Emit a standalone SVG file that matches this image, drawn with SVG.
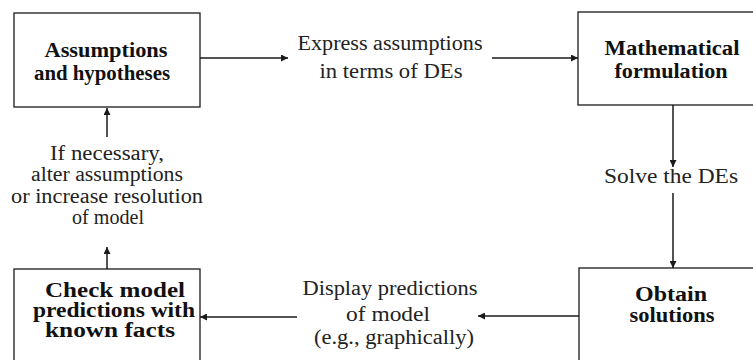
<svg xmlns="http://www.w3.org/2000/svg" width="753" height="360" viewBox="0 0 753 360">
  <defs>
    <marker id="arrow" viewBox="0 0 10 10" refX="10" refY="5" markerWidth="9" markerHeight="7" markerUnits="userSpaceOnUse" orient="auto">
      <path d="M0,0 L10,5 L0,10 z" fill="#1a1a1a"/>
    </marker>
    <style>
      .box { fill: #ffffff; stroke: #1a1a1a; stroke-width: 1.3; }
      .link { fill: none; stroke: #1a1a1a; stroke-width: 1.5; marker-end: url(#arrow); }
      .title { font-family: "Liberation Serif", "Times New Roman", serif; font-weight: bold; font-size: 20px; fill: #111; text-anchor: middle; }
      .label { font-family: "Liberation Serif", "Times New Roman", serif; font-size: 20px; fill: #222; text-anchor: middle; }
    </style>
  </defs>
  <rect width="753" height="360" fill="#ffffff"/>

  <!-- connectors -->
  <g id="connectors">
    <line class="link" x1="200" y1="58" x2="288" y2="58"/>
    <line class="link" x1="492" y1="58" x2="578" y2="58"/>
    <line class="link" x1="673" y1="105" x2="673" y2="167"/>
    <line class="link" x1="673" y1="193" x2="673" y2="268"/>
    <line class="link" x1="579" y1="316" x2="478" y2="316"/>
    <line class="link" x1="297" y1="317" x2="200" y2="317"/>
    <line class="link" x1="107" y1="269" x2="107" y2="247"/>
    <line class="link" x1="107" y1="137" x2="107" y2="108"/>
  </g>

  <!-- connector labels -->
  <g id="label-express">
    <text class="label" x="390" y="50" textLength="185" lengthAdjust="spacingAndGlyphs">Express assumptions</text>
    <text class="label" x="391" y="78" textLength="143" lengthAdjust="spacingAndGlyphs">in terms of DEs</text>
  </g>
  <g id="label-solve">
    <text class="label" x="671" y="183" textLength="134" lengthAdjust="spacingAndGlyphs">Solve the DEs</text>
  </g>
  <g id="label-display">
    <text class="label" x="390" y="295" textLength="175" lengthAdjust="spacingAndGlyphs">Display predictions</text>
    <text class="label" x="388" y="321" textLength="84" lengthAdjust="spacingAndGlyphs">of  model</text>
    <text class="label" x="394" y="344" textLength="160" lengthAdjust="spacingAndGlyphs">(e.g., graphically)</text>
  </g>
  <g id="label-alter">
    <text class="label" x="107" y="160" textLength="114" lengthAdjust="spacingAndGlyphs">If necessary,</text>
    <text class="label" x="107" y="181" textLength="152" lengthAdjust="spacingAndGlyphs">alter assumptions</text>
    <text class="label" x="107" y="203" textLength="192" lengthAdjust="spacingAndGlyphs">or increase resolution</text>
    <text class="label" x="108" y="224" textLength="72" lengthAdjust="spacingAndGlyphs">of model</text>
  </g>

  <!-- nodes -->
  <g id="assumptions">
    <rect class="box" x="14" y="13" width="186" height="94"/>
    <text class="title" x="106" y="57" textLength="123" lengthAdjust="spacingAndGlyphs">Assumptions</text>
    <text class="title" x="102" y="80" textLength="136" lengthAdjust="spacingAndGlyphs">and hypotheses</text>
  </g>
  <g id="formulation">
    <rect class="box" x="578" y="12" width="200" height="93"/>
    <text class="title" x="672" y="55" textLength="135" lengthAdjust="spacingAndGlyphs">Mathematical</text>
    <text class="title" x="671" y="78" textLength="113" lengthAdjust="spacingAndGlyphs">formulation</text>
  </g>
  <g id="solutions">
    <rect class="box" x="579" y="268" width="200" height="110"/>
    <text class="title" x="671" y="301" textLength="72" lengthAdjust="spacingAndGlyphs">Obtain</text>
    <text class="title" x="672" y="322" textLength="85" lengthAdjust="spacingAndGlyphs">solutions</text>
  </g>
  <g id="check">
    <rect class="box" x="14" y="269" width="186" height="110"/>
    <text class="title" x="115" y="297" textLength="140" lengthAdjust="spacingAndGlyphs">Check model</text>
    <text class="title" x="114" y="317" textLength="162" lengthAdjust="spacingAndGlyphs">predictions with</text>
    <text class="title" x="110" y="337" textLength="130" lengthAdjust="spacingAndGlyphs">known facts</text>
  </g>
</svg>
